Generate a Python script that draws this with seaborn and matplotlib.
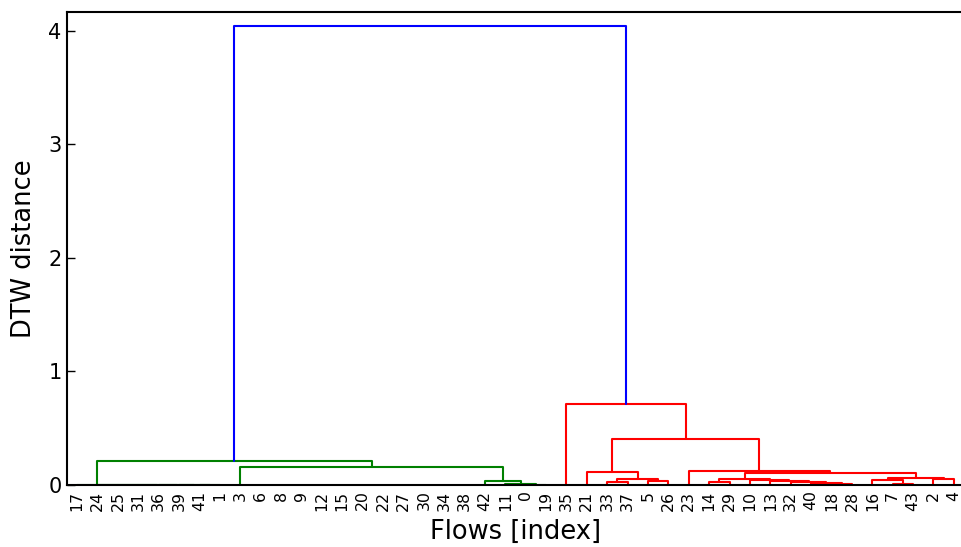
import numpy as np
import pandas as pd
import matplotlib
matplotlib.use("Agg")
import matplotlib.pyplot as plt
import seaborn as sns

# ---- data -------------------------------------------------------------
# leaf order along the x axis (flow indices)
leaf_labels = [17, 24, 25, 31, 36, 39, 41, 1, 3, 6, 8, 9, 12, 15, 20, 22, 27,
               30, 34, 38, 42, 11, 0, 19, 35, 21, 33, 37, 5, 26, 23, 14, 29,
               10, 13, 32, 40, 18, 28, 16, 7, 43, 2, 4]

# merges: children are leaf positions (int) or earlier merge names (str)
link_names = ["c6", "c5", "c4", "c3", "c2", "c1", "c0",
              "g4a", "g4", "g3", "g2", "g1",
              "r5", "r6", "r4", "r3",
              "r10", "r15", "r14", "r13", "r12", "r11", "r9",
              "r19", "r17", "r18", "r16", "r8", "r7", "r2", "r1",
              "top"]
link_left = [6, 5, 4, 3, 2, 1, 0,
             22, 21, 20, 8, "c0",
             26, 28, "r5", 25,
             31, 37, 36, 35, 34, 33, "r10",
             40, 39, 42, "r17", "r9", 30, "r3", 24,
             "g1"]
link_right = [7, "c6", "c5", "c4", "c3", "c2", "c1",
              23, "g4a", "g4", "g3", "g2",
              27, 29, "r6", "r4",
              32, 38, "r15", "r14", "r13", "r12", "r11",
              41, "r19", 43, "r18", "r16", "r8", "r7", "r2",
              "r1"]
link_height = [0, 0, 0, 0, 0, 0, 0,
               0.0, 0.012, 0.035, 0.159, 0.211,
               0.024, 0.035, 0.056, 0.112,
               0.024, 0.012, 0.020, 0.027, 0.033, 0.040, 0.050,
               0.005, 0.047, 0.050, 0.064, 0.106, 0.122, 0.402, 0.716,
               4.044]
link_group = ["green"] * 12 + ["red"] * 19 + ["blue"]

palette = {"green": "#008000", "red": "#ff0000", "blue": "#0000ff"}

# ---- build U-shaped link coordinates ---------------------------------
pos = {i: 5 + 10 * i for i in range(len(leaf_labels))}
hgt = {i: 0.0 for i in range(len(leaf_labels))}
rows = []
for name, l, r, h, g in zip(link_names, link_left, link_right, link_height, link_group):
    xl, xr = pos[l], pos[r]
    yl, yr = hgt[l], hgt[r]
    for k, (xx, yy) in enumerate([(xl, yl), (xl, h), (xr, h), (xr, yr)]):
        rows.append({"link": name, "order": k, "x": xx, "y": yy, "group": g})
    pos[name] = (xl + xr) / 2
    hgt[name] = h
df = pd.DataFrame(rows)

# ---- plot ----------------------------------------------------------------
sns.set_style("white")
plt.rcParams["font.family"] = ["DejaVu Sans"]
plt.rcParams["text.color"] = "black"
plt.rcParams["axes.labelcolor"] = "black"

fig = plt.figure(figsize=(9.61, 5.47), dpi=100)
ax = fig.add_axes([67 / 961, 62 / 547, 897 / 961, 473 / 547])

sns.lineplot(data=df, x="x", y="y", units="link", estimator=None, sort=False,
             hue="group", palette=palette, legend=False, linewidth=1.5, ax=ax)

ax.set_xlim(0, 10 * len(leaf_labels))
ax.set_ylim(0, 4.167)
ax.set_xticks([5 + 10 * i for i in range(len(leaf_labels))])
ax.set_xticklabels([str(v) for v in leaf_labels], rotation=90, fontsize=11.3)
ax.set_yticks([0, 1, 2, 3, 4])
ax.set_yticklabels(["0", "1", "2", "3", "4"], fontsize=15)
ax.tick_params(axis="x", length=0, pad=4, colors="black")
ax.tick_params(axis="y", direction="in", length=6, width=1, left=True,
               right=False, pad=4, colors="black")
for sp in ax.spines.values():
    sp.set_visible(True)
    sp.set_color("black")
    sp.set_linewidth(1.5)

ax.set_xlabel("Flows [index]", fontsize=18.5, labelpad=6, color="black")
ax.set_ylabel("DTW distance", fontsize=18.5, labelpad=8, color="black")

fig.savefig("out.png", dpi=100)
